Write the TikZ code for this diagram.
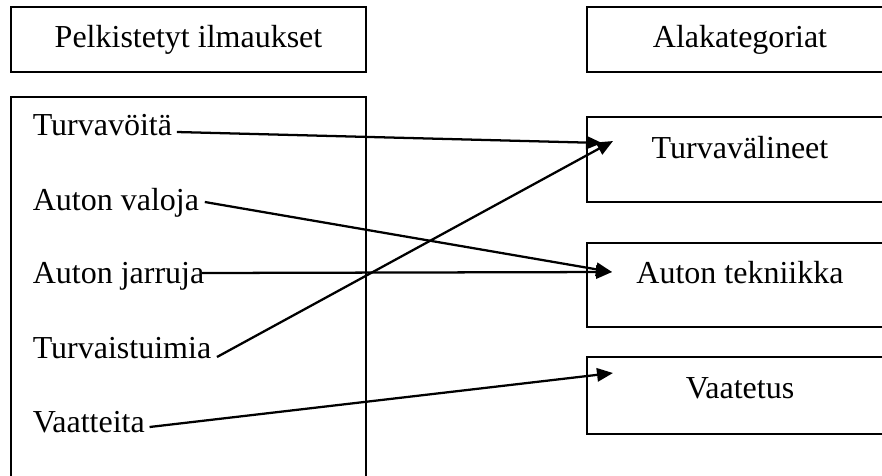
\documentclass[tikz,border=0pt]{standalone}
\usepackage{fontspec}
\setmainfont{Liberation Serif}
\usetikzlibrary{arrows.meta}
\tikzset{
  item/.style={anchor=base west, inner sep=0pt},
  label/.style={anchor=base, inner sep=0pt},
  link/.style={line width=0.85pt, -{Triangle[length=6pt,width=5pt]}}
}
\begin{document}
\begin{tikzpicture}[x=0.375pt,y=-0.375pt,font=\fontsize{12}{14}\selectfont,line width=0.6pt]
\useasboundingbox (0,0) rectangle (882,475);
\clip (0,0) rectangle (882,475);

\draw (11,7) rectangle (366,72);
\node [label] (hleft) at (188.5,47) {Pelkistetyt ilmaukset};
\draw (587,7) rectangle (893,72);
\node [label] (hright) at (740,47) {Alakategoriat};

\draw (11,97) rectangle (366,495);
\node [item] (voita) at (32,135) {Turvavöitä};
\node [item] (valoja) at (32,210) {Auton valoja};
\node [item] (jarruja) at (32,283) {Auton jarruja};
\node [item] (istuimia) at (32,358) {Turvaistuimia};
\node [item] (vaatteita) at (32,432) {Vaatteita};

\draw (587,117) rectangle (893,202);
\node [label] (valineet) at (740,158) {Turvavälineet};
\draw (587,243) rectangle (893,327);
\node [label] (tekniikka) at (740,283) {Auton tekniikka};
\draw (587,357) rectangle (893,434);
\node [label] (vaatetus) at (740,398) {Vaatetus};

\coordinate (p1) at (602,143);
\coordinate (p2) at (613,141);
\coordinate (p3) at (612,272);
\coordinate (p4) at (613,373);

\draw [link] ([shift={(4,-3)}]voita.base east) -- (p1);
\draw [link] ([shift={(5,-8)}]valoja.base east) -- (p3);
\draw [link] ([shift={(-3,-10)}]jarruja.base east) -- (p3);
\draw [link] ([shift={(5,-1)}]istuimia.base east) -- (p2);
\draw [link] ([shift={(4,-5)}]vaatteita.base east) -- (p4);
\end{tikzpicture}
\end{document}
